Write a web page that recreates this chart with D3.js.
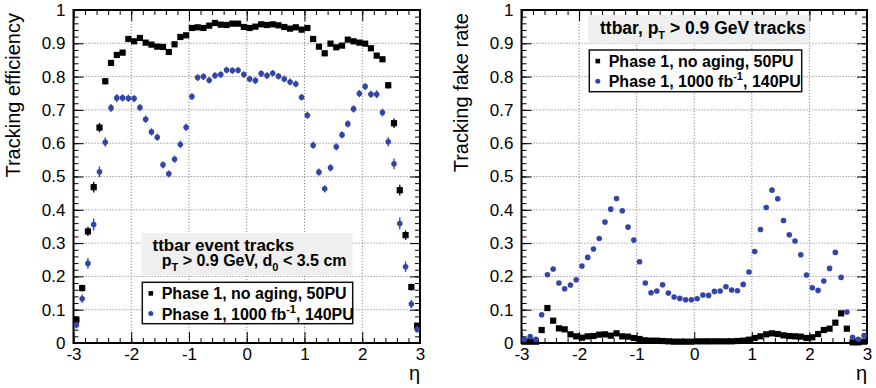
<!DOCTYPE html>
<html><head><meta charset="utf-8">
<script src="https://cdn.jsdelivr.net/npm/d3@7"></script>
<style>
body{margin:0;background:#fff}
text{font-family:"Liberation Sans",Arial,Helvetica,sans-serif}
</style>
</head><body>
<svg id="chart" width="876" height="388"></svg>
<script>
// ---- data ----
const etaBins = [-2.95,-2.85,-2.75,-2.65,-2.55,-2.45,-2.35,-2.25,-2.15,-2.05,
  -1.95,-1.85,-1.75,-1.65,-1.55,-1.45,-1.35,-1.25,-1.15,-1.05,
  -0.95,-0.85,-0.75,-0.65,-0.55,-0.45,-0.35,-0.25,-0.15,-0.05,
  0.05,0.15,0.25,0.35,0.45,0.55,0.65,0.75,0.85,0.95,
  1.05,1.15,1.25,1.35,1.45,1.55,1.65,1.75,1.85,1.95,
  2.05,2.15,2.25,2.35,2.45,2.55,2.65,2.75,2.85,2.95];

const effNoAging = [0.070,0.165,0.335,0.468,0.647,0.786,0.841,0.865,0.872,0.913,
  0.906,0.916,0.902,0.896,0.890,0.889,0.874,0.897,0.919,0.924,
  0.946,0.948,0.946,0.953,0.961,0.956,0.955,0.959,0.959,0.949,
  0.946,0.950,0.957,0.955,0.957,0.954,0.949,0.944,0.948,0.941,
  0.946,0.913,0.890,0.870,0.899,0.888,0.893,0.911,0.906,0.902,
  0.899,0.885,0.863,0.852,0.774,0.660,0.459,0.324,0.168,0.052];
const effNoAgingErr = [0.008,0.010,0.014,0.016,0.014,0.010,0.006,0.005,0.005,0.004,
  0.004,0.004,0.004,0.004,0.004,0.004,0.004,0.004,0.004,0.004,
  0.004,0.004,0.004,0.004,0.004,0.004,0.004,0.004,0.004,0.004,
  0.004,0.004,0.004,0.004,0.004,0.004,0.004,0.004,0.004,0.004,
  0.004,0.004,0.004,0.004,0.004,0.004,0.004,0.004,0.004,0.004,
  0.004,0.005,0.005,0.006,0.010,0.014,0.016,0.014,0.010,0.008];

const effAged = [0.054,0.133,0.239,0.356,0.514,0.603,0.706,0.736,0.736,0.735,
  0.734,0.707,0.672,0.634,0.618,0.535,0.508,0.552,0.596,0.648,
  0.740,0.797,0.800,0.789,0.803,0.806,0.820,0.818,0.819,0.806,
  0.793,0.788,0.809,0.803,0.810,0.801,0.793,0.784,0.778,0.738,
  0.684,0.594,0.513,0.463,0.526,0.589,0.625,0.658,0.703,0.749,
  0.770,0.747,0.747,0.692,0.604,0.538,0.359,0.229,0.117,0.041];
const effAgedErr = [0.010,0.013,0.016,0.018,0.016,0.014,0.012,0.012,0.011,0.011,
  0.011,0.011,0.011,0.011,0.011,0.011,0.011,0.011,0.011,0.011,
  0.010,0.010,0.010,0.010,0.010,0.010,0.010,0.010,0.010,0.010,
  0.010,0.010,0.010,0.010,0.010,0.010,0.010,0.010,0.010,0.010,
  0.011,0.011,0.011,0.011,0.011,0.011,0.011,0.011,0.011,0.011,
  0.011,0.011,0.012,0.012,0.014,0.016,0.018,0.016,0.013,0.010];

const fakeNoAging = [0.004,0.004,0.004,0.039,0.105,0.067,0.044,0.041,0.026,0.020,
  0.016,0.020,0.021,0.025,0.026,0.022,0.029,0.020,0.019,0.015,
  0.012,0.008,0.007,0.007,0.006,0.005,0.004,0.004,0.004,0.004,
  0.005,0.005,0.005,0.005,0.005,0.005,0.005,0.006,0.007,0.010,
  0.015,0.020,0.026,0.029,0.027,0.023,0.021,0.020,0.019,0.015,
  0.017,0.027,0.039,0.043,0.061,0.089,0.043,0.002,0.002,0.004];

const fakeAged = [0.011,0.019,0.011,0.085,0.205,0.222,0.180,0.163,0.174,0.190,
  0.231,0.257,0.282,0.314,0.363,0.402,0.434,0.397,0.348,0.309,
  0.244,0.180,0.151,0.156,0.175,0.150,0.138,0.134,0.130,0.130,
  0.133,0.144,0.143,0.155,0.156,0.169,0.159,0.157,0.176,0.213,
  0.275,0.341,0.407,0.459,0.433,0.368,0.325,0.306,0.265,0.204,
  0.166,0.158,0.186,0.224,0.272,0.197,0.093,0.017,0.011,0.022];

const xTickValues = [-3,-2,-1,0,1,2,3];
const xTickLabels = ["-3","-2","-1","0","1","2","3"];
const yTickValues = [0,0.1,0.2,0.3,0.4,0.5,0.6,0.7,0.8,0.9,1];
const yTickLabels = ["0","0.1","0.2","0.3","0.4","0.5","0.6","0.7","0.8","0.9","1"];
const legendLabels = ["Phase 1, no aging, 50PU", "Phase 1, 1000 fb", "-1", ", 140PU"];

// ---- drawing ----
const svg = d3.select("#chart");
const BLUE = "#3346a8";
const Y0 = 343, Y1 = 10;

function rich(g, x, y, parts, size, weight) {
  const t = g.append("text").attr("x", x).attr("y", y)
    .attr("font-size", size).attr("font-weight", weight || "bold").attr("fill", "#000");
  let shift = 0;
  parts.forEach(p => {
    const ts = t.append("tspan").text(p.t);
    let target = 0;
    if (p.sub) { target = 5; ts.attr("font-size", 11); }
    if (p.sup) { target = -7; ts.attr("font-size", 11); }
    ts.attr("dy", target - shift);
    shift = target;
  });
  return t;
}

function panel(opt) {
  const x = d3.scaleLinear().domain([-3, 3]).range([opt.x0, opt.x1]);
  const y = d3.scaleLinear().domain([0, 1]).range([Y0, Y1]);
  const g = svg.append("g");

  // grid
  const grid = g.append("g").attr("stroke", "#8a8a8a").attr("stroke-width", 1).attr("stroke-dasharray", "1.2,1.8");
  xTickValues.slice(1, -1).forEach(v => grid.append("line")
    .attr("x1", x(v)).attr("x2", x(v)).attr("y1", Y0).attr("y2", Y1));
  yTickValues.slice(1, -1).forEach(v => grid.append("line")
    .attr("y1", y(v)).attr("y2", y(v)).attr("x1", opt.x0).attr("x2", opt.x1));

  // minor ticks
  const xMinor = d3.range(-3, 3.0001, 0.2).map(v => +v.toFixed(2));
  const yMinor = d3.range(0, 1.0001, 0.02).map(v => +v.toFixed(2));
  const styleAxis = sel => { sel.select(".domain").remove(); sel.selectAll("line").attr("stroke", "#000").attr("stroke-width", 1); };
  g.append("g").attr("transform", `translate(0,${Y0})`).call(d3.axisBottom(x).tickValues(xMinor).tickSize(-5).tickFormat("")).call(styleAxis);
  g.append("g").attr("transform", `translate(0,${Y1})`).call(d3.axisTop(x).tickValues(xMinor).tickSize(-5).tickFormat("")).call(styleAxis);
  g.append("g").attr("transform", `translate(${opt.x0},0)`).call(d3.axisLeft(y).tickValues(yMinor).tickSize(-5).tickFormat("")).call(styleAxis);
  g.append("g").attr("transform", `translate(${opt.x1},0)`).call(d3.axisRight(y).tickValues(yMinor).tickSize(-5).tickFormat("")).call(styleAxis);

  // major ticks + labels
  const bx = g.append("g").attr("transform", `translate(0,${Y0})`)
    .call(d3.axisBottom(x).tickValues(xTickValues).tickSize(-11).tickPadding(5).tickFormat((d, i) => xTickLabels[i]))
    .call(styleAxis);
  g.append("g").attr("transform", `translate(0,${Y1})`).call(d3.axisTop(x).tickValues(xTickValues).tickSize(-11).tickFormat("")).call(styleAxis);
  const ly = g.append("g").attr("transform", `translate(${opt.x0},0)`)
    .call(d3.axisLeft(y).tickValues(yTickValues).tickSize(-10).tickPadding(8).tickFormat((d, i) => yTickLabels[i]))
    .call(styleAxis);
  g.append("g").attr("transform", `translate(${opt.x1},0)`).call(d3.axisRight(y).tickValues(yTickValues).tickSize(-10).tickFormat("")).call(styleAxis);
  [bx, ly].forEach(a => a.selectAll("text").attr("font-size", 17).attr("fill", "#000")
    .attr("font-family", "'Liberation Sans',Arial,sans-serif"));

  // frame
  g.append("rect").attr("x", opt.x0).attr("y", Y1).attr("width", opt.x1 - opt.x0).attr("height", Y0 - Y1)
    .attr("fill", "none").attr("stroke", "#000").attr("stroke-width", 2);

  // axis titles
  g.append("text").attr("transform", `translate(${opt.x0 - 54},${Y1 + 3}) rotate(-90)`)
    .attr("text-anchor", "end").attr("font-size", 20).text(opt.ytitle);
  g.append("text").attr("x", opt.x1).attr("y", 380).attr("text-anchor", "end").attr("font-size", 20).text("η");

  opt.legend(g);

  // data
  const dg = g.append("g");
  opt.series.forEach(s => {
    const pts = etaBins.map((e, i) => ({ e, v: s.values[i], err: s.err ? s.err[i] : 0 }))
      .filter(d => d.v >= 0 && d.v <= 1);
    dg.append("g").selectAll("line").data(pts.filter(d => d.err > 0)).join("line")
      .attr("x1", d => x(d.e)).attr("x2", d => x(d.e))
      .attr("y1", d => y(d.v - d.err)).attr("y2", d => y(Math.min(1, d.v + d.err)))
      .attr("stroke", s.color).attr("stroke-width", 1.3);
    if (s.shape === "square") {
      dg.append("g").selectAll("rect").data(pts).join("rect")
        .attr("x", d => x(d.e) - 3.1).attr("y", d => y(d.v) - 3.1)
        .attr("width", 6.2).attr("height", 6.2).attr("fill", s.color);
    } else {
      dg.append("g").selectAll("circle").data(pts).join("circle")
        .attr("cx", d => x(d.e)).attr("cy", d => y(d.v)).attr("r", 2.8).attr("fill", s.color);
    }
  });
}

function legendEntries(g, bx, by, bw, bh) {
  g.append("rect").attr("x", bx).attr("y", by).attr("width", bw).attr("height", bh)
    .attr("fill", "#fff").attr("stroke", "#111").attr("stroke-width", 1.5);
  g.append("rect").attr("x", bx + 6.2).attr("y", by + 8.8).attr("width", 4.6).attr("height", 4.6).attr("fill", "#000");
  g.append("circle").attr("cx", bx + 8.5).attr("cy", by + 31.2).attr("r", 2.5).attr("fill", BLUE);
  rich(g, bx + 19.4, by + 16.8, [{ t: legendLabels[0] }], 16);
  rich(g, bx + 19.4, by + 37.2, [{ t: legendLabels[1] }, { t: legendLabels[2], sup: true }, { t: legendLabels[3] }], 16);
}

panel({
  x0: 73.5, x1: 420, ytitle: "Tracking efficiency",
  series: [
    { values: effNoAging, err: effNoAgingErr, color: "#000", shape: "square" },
    { values: effAged, err: effAgedErr, color: BLUE, shape: "circle" }
  ],
  legend: g => {
    g.append("rect").attr("x", 141.5).attr("y", 233).attr("width", 211).attr("height", 42).attr("fill", "#efefef");
    rich(g, 152.5, 250.5, [{ t: "ttbar event tracks" }], 17);
    rich(g, 161.7, 266, [{ t: "p" }, { t: "T", sub: true }, { t: " > 0.9 GeV, d" }, { t: "0", sub: true }, { t: " < 3.5 cm" }], 16);
    legendEntries(g, 142.3, 282.3, 210.4, 41.4);
  }
});

panel({
  x0: 521.5, x1: 867, ytitle: "Tracking fake rate",
  series: [
    { values: fakeNoAging, color: "#000", shape: "square" },
    { values: fakeAged, color: BLUE, shape: "circle" }
  ],
  legend: g => {
    g.append("rect").attr("x", 588.3).attr("y", 15).attr("width", 221).attr("height", 28.3).attr("fill", "#efefef");
    rich(g, 600, 34, [{ t: "ttbar, p" }, { t: "T", sub: true }, { t: " > 0.9 GeV tracks" }], 17.5);
    legendEntries(g, 589.3, 50, 212.4, 41.7);
  }
});
</script>
</body></html>
